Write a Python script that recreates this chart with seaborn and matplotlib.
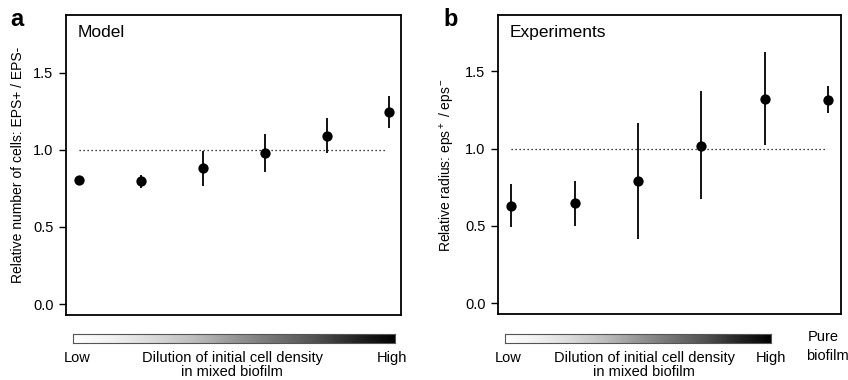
import numpy as np
import pandas as pd
import matplotlib
matplotlib.use("Agg")
import matplotlib.pyplot as plt
import seaborn as sns

# dilution levels (low -> high), last one in panel b is the pure biofilm
levels = [0, 1, 2, 3, 4, 5]

# panel a: model, ratio of cell numbers EPS+ / EPS-
model_mean = [0.803, 0.796, 0.881, 0.979, 1.089, 1.245]
model_lo = [0.790, 0.750, 0.766, 0.855, 0.977, 1.139]
model_hi = [0.815, 0.840, 0.994, 1.100, 1.204, 1.350]

# panel b: experiments, relative radius eps+ / eps-
exp_mean = [0.632, 0.647, 0.791, 1.020, 1.321, 1.315]
exp_lo = [0.496, 0.502, 0.416, 0.673, 1.026, 1.229]
exp_hi = [0.770, 0.790, 1.164, 1.373, 1.623, 1.405]

sns.set_theme(style="ticks")
plt.rcParams["font.family"] = ["Liberation Sans", "DejaVu Sans"]
plt.rcParams["mathtext.fontset"] = "custom"
plt.rcParams["mathtext.rm"] = "Liberation Sans"
plt.rcParams["mathtext.it"] = "Liberation Sans"
plt.rcParams["text.color"] = "black"
plt.rcParams["axes.labelcolor"] = "black"
plt.rcParams["ytick.color"] = "black"

fig = plt.figure(figsize=(8.48, 3.8), dpi=100)
ax_a = fig.add_axes([0.0778, 0.1711, 0.3951, 0.7895])
ax_b = fig.add_axes([0.5873, 0.1729, 0.4041, 0.7884])


def draw_panel(ax, mean, lo, hi, title, ylabel, ylim):
    df = pd.DataFrame({"level": levels, "mean": mean, "lo": lo, "hi": hi})
    ax.vlines(df["level"], df["lo"], df["hi"], color="black", lw=1.3, zorder=2)
    sns.scatterplot(data=df, x="level", y="mean", ax=ax, color="black",
                    s=55, edgecolor="black", linewidth=0, zorder=3, legend=False)
    ax.hlines(1.0, 0, 4.95, color="black", lw=0.9, linestyles=(0, (1, 2.2)), zorder=1)
    ax.set_xlim(-0.21, 5.2)
    ax.set_ylim(*ylim)
    ax.set_yticks([0.0, 0.5, 1.0, 1.5])
    ax.set_yticklabels(["0.0", "0.5", "1.0", "1.5"], fontsize=10.5)
    ax.set_xticks([])
    ax.set_xlabel("")
    ax.set_ylabel(ylabel, fontsize=10, labelpad=6)
    ax.tick_params(axis="y", direction="out", length=5, width=1, colors="black", pad=4)
    for sp in ax.spines.values():
        sp.set_visible(True)
        sp.set_linewidth(1.3)
        sp.set_color("black")
    ax.text(0.035, 0.965, title, transform=ax.transAxes, ha="left", va="top", fontsize=12.5)


draw_panel(ax_a, model_mean, model_lo, model_hi, "Model",
           "Relative number of cells: EPS+ / EPS-", (-0.071, 1.875))
draw_panel(ax_b, exp_mean, exp_lo, exp_hi, "Experiments",
           r"Relative radius: eps$^+$ / eps$^-$", (-0.071, 1.866))

fig.text(0.012, 0.95, "a", fontsize=17, fontweight="bold", ha="left", va="center")
fig.text(0.523, 0.95, "b", fontsize=17, fontweight="bold", ha="left", va="center")

# gradient bars for dilution
grad = np.linspace(0, 1, 256).reshape(1, -1)
for left, width in [(0.0857, 0.3804), (0.5952, 0.3137)]:
    cax = fig.add_axes([left, 0.098, width, 0.022])
    cax.imshow(grad, aspect="auto", cmap="Greys", vmin=0, vmax=1)
    cax.set_xticks([])
    cax.set_yticks([])
    for sp in cax.spines.values():
        sp.set_color("#555555")
        sp.set_linewidth(0.8)

ty = 1 - 358 / 380
ty2 = 1 - 372 / 380
for low_x, mid_x, high_x in [(77, 232, 392), (508, 644, 771)]:
    fig.text(low_x / 848, ty, "Low", ha="center", va="center", fontsize=10.5)
    fig.text(mid_x / 848, ty, "Dilution of initial cell density", ha="center", va="center", fontsize=10.5)
    fig.text(mid_x / 848, ty2, "in mixed biofilm", ha="center", va="center", fontsize=10.5)
    fig.text(high_x / 848, ty, "High", ha="center", va="center", fontsize=10.5)

fig.text(808 / 848, 1 - 337 / 380, "Pure", ha="left", va="center", fontsize=10.5)
fig.text(806 / 848, 1 - 356 / 380, "biofilm", ha="left", va="center", fontsize=10.5)

fig.savefig("out.png", dpi=100)
